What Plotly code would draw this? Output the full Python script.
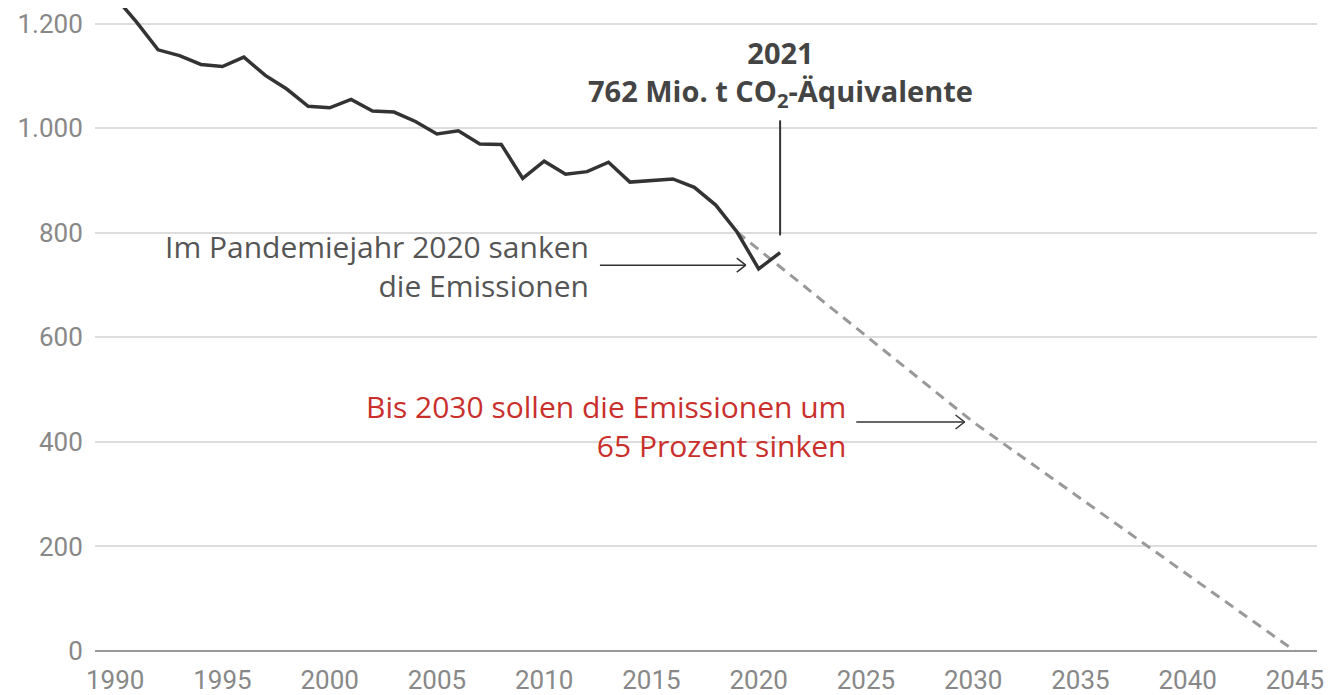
import plotly.graph_objects as go

# ---- data ----
years = list(range(1990, 2022))
emissions = [1251, 1203, 1150, 1139, 1122, 1118, 1136, 1101, 1075, 1042,
             1039, 1055, 1033, 1031, 1013, 989, 995, 970, 969, 904,
             937, 912, 917, 935, 897, 900, 903, 887, 853, 801,
             731, 762]
target_years = [2019, 2030, 2045]
target_values = [801, 438, 0]

x_ticks = [1990, 1995, 2000, 2005, 2010, 2015, 2020, 2025, 2030, 2035, 2040, 2045]
y_ticks = [0, 200, 400, 600, 800, 1000, 1200]

TICK_FONT = "Roboto"
TXT_FONT = "Open Sans"
GRAY_TXT = "#555555"
DARK = "#333333"
RED = "#c9302c"

fig = go.Figure()
fig.add_trace(go.Scatter(x=target_years, y=target_values, mode="lines",
                         line=dict(color="#999999", width=3, dash="10px,7px"),
                         hoverinfo="skip", showlegend=False))
fig.add_trace(go.Scatter(x=years, y=emissions, mode="lines",
                         line=dict(color=DARK, width=3.5),
                         showlegend=False))

shapes = []
# 2021 leader line
shapes.append(dict(type="line", xref="x", yref="y", x0=2021, x1=2021, y0=795, y1=1015,
                   line=dict(color=DARK, width=2)))

def arrow(x0, x1, y):
    shapes.append(dict(type="line", xref="x", yref="y", x0=x0, x1=x1, y0=y, y1=y,
                       line=dict(color=DARK, width=1.5)))
    for s in (1, -1):
        shapes.append(dict(type="line", xref="x", yref="y",
                           xsizemode="pixel", ysizemode="pixel",
                           xanchor=x1, yanchor=y, x0=-9, x1=0, y0=7 * s, y1=0,
                           line=dict(color=DARK, width=1.5)))

arrow(2012.6, 2019.4, 738)
arrow(2024.55, 2029.6, 438)

def txt(x, y, text, color, anchor, align, bold=False, size=30):
    return dict(x=x, y=y, xref="x", yref="y", text=text, showarrow=False,
                xanchor=anchor, yanchor="middle", align=align,
                font=dict(family=TXT_FONT, size=size, color=color,
                          weight=700 if bold else 400))

annotations = [
    txt(2021, 1104, "<b>2021</b><br><b>762 Mio. t CO<sub>2</sub>-Äquivalente</b>",
        "#444444", "center", "center", True, 29),
    txt(2012.17, 736, "Im Pandemiejahr 2020 sanken<br>die Emissionen", GRAY_TXT, "right", "right"),
    txt(2024.17, 430, "Bis 2030 sollen die Emissionen um<br>65 Prozent sinken", RED, "right", "right"),
]

# The page body has an 8px margin, so the figure is 1324x687 and offsets are compensated.
fig.update_layout(
    width=1324, height=687,
    margin=dict(l=87, r=15, t=0, b=39),
    paper_bgcolor="white", plot_bgcolor="white",
    separators=",.",
    font=dict(family=TICK_FONT, size=26, color="#888888"),
    shapes=shapes, annotations=annotations,
    xaxis=dict(range=[1989.06, 2046.03], tickvals=x_ticks, showgrid=False, zeroline=False,
               showline=False, ticks="outside", ticklen=6, tickcolor="rgba(0,0,0,0)",
               tickfont=dict(family=TICK_FONT, size=26, color="#888888")),
    yaxis=dict(range=[0, 1230], tickvals=y_ticks, tickformat=",d", showgrid=True,
               gridcolor="#dddddd", gridwidth=1.5, zeroline=True, zerolinecolor="#999999",
               zerolinewidth=2, showline=False, ticks="outside", ticklen=6,
               tickcolor="rgba(0,0,0,0)",
               tickfont=dict(family=TICK_FONT, size=26, color="#888888")),
)

fig.write_html("out.html")
